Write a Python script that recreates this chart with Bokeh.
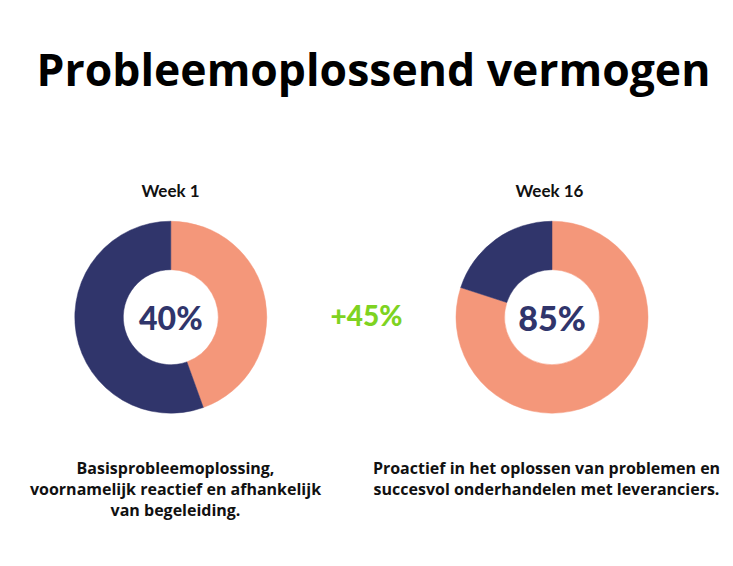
import math
from bokeh.plotting import figure
from bokeh.models import Range1d, ColumnDataSource
from bokeh.core.properties import value
from bokeh.embed import file_html
from bokeh.resources import INLINE

# ---- data ----
title = "Probleemoplossend vermogen"
weeks = ["Week 1", "Week 16"]
shares = [44.5, 80.0]            # salmon share of each ring, as drawn (percent)
center_labels = ["40%", "85%"]
delta_label = "+45%"
captions = [
    ["Basisprobleemoplossing,", "voornamelijk reactief en afhankelijk", "van begeleiding."],
    ["Proactief in het oplossen van problemen en", "succesvol onderhandelen met leveranciers."],
]

NAVY = "#30356b"
SALMON = "#f4977a"
GREEN = "#7ed321"

W, H = 730, 563
p = figure(width=W, height=H, output_backend="svg", toolbar_location=None,
           x_range=Range1d(0, W), y_range=Range1d(0, H), min_border=0)
p.axis.visible = False
p.grid.visible = False
p.outline_line_color = None
p.background_fill_color = "white"

def Y(page_y):
    return H - page_y

def X(page_x):
    return page_x

cx = [X(170.3), X(551.5)]
cy = Y(316.7)

# wedges
ws = dict(x=[], y=[], start=[], end=[], color=[])
for i, s in enumerate(shares):
    a0 = math.pi / 2
    a1 = a0 - s / 100 * 2 * math.pi
    a2 = a0 - 2 * math.pi
    ws["x"] += [cx[i], cx[i]]
    ws["y"] += [cy, cy]
    ws["start"] += [a0, a1]
    ws["end"] += [a1, a2]
    ws["color"] += [SALMON, NAVY]
src = ColumnDataSource(ws)
p.annular_wedge(x="x", y="y", inner_radius=47.5, outer_radius=96,
                inner_radius_units="screen", outer_radius_units="screen",
                start_angle="start", end_angle="end", direction="clock",
                fill_color="color", line_color="color", line_width=0.5, source=src)

# title
p.text(x=[X(373)], y=[Y(68)], text=[title], text_font=value("Open Sans"),
       text_font_style="bold", text_font_size="44.5px", text_color="#000000",
       text_align="center", text_baseline="middle")

# week labels
p.text(x=[X(170), X(549)], y=[Y(190), Y(190)], text=weeks, text_font=value("Lato"),
       text_font_style="bold", text_font_size="17px", text_color="#111111",
       text_align="center", text_baseline="middle")

# center labels
p.text(x=cx, y=[cy, cy], text=center_labels, text_font=value("Lato Black, Lato"),
       text_font_style="bold", text_font_size=["32px", "34px"], text_color=NAVY,
       text_align="center", text_baseline="middle")

# delta label
p.text(x=[X(366)], y=[Y(314)], text=[delta_label], text_font=value("Lato Black, Lato"),
       text_font_style="bold", text_font_size="28px", text_color=GREEN,
       text_align="center", text_baseline="middle")

# captions
cap_x = [X(175), X(546)]
for i, lines in enumerate(captions):
    p.text(x=[cap_x[i]] * len(lines), y=[Y(467 + 21 * k) for k in range(len(lines))],
           text=lines, text_font=value("Open Sans"), text_font_style="bold",
           text_font_size="16px", text_color="#111111",
           text_align="center", text_baseline="middle")

open("out.html", "w").write(file_html(p, INLINE))
